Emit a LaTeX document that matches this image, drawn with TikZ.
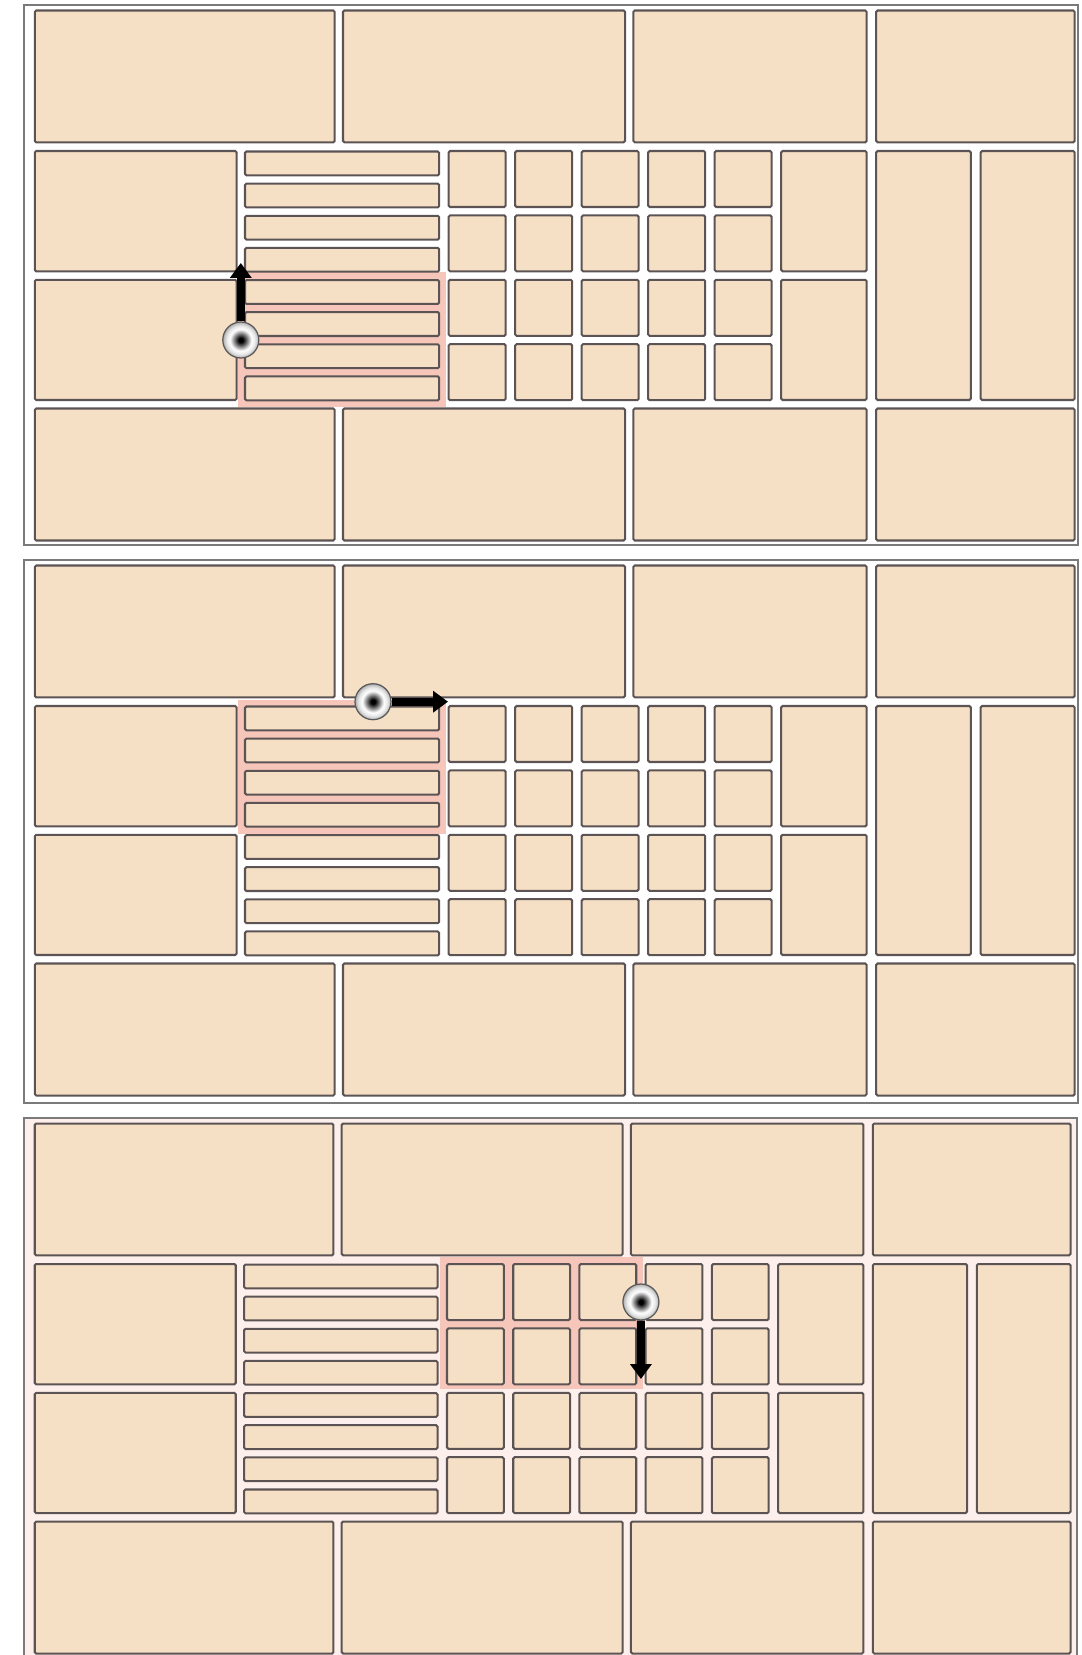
\documentclass[tikz,border=0pt]{standalone}
\usepackage{tikz}
\usetikzlibrary{arrows.meta, positioning}

\definecolor{peche}{RGB}{245,223,197}
\definecolor{trait}{RGB}{92,84,84}
\definecolor{rose}{RGB}{246,198,186}
\definecolor{fondrose}{RGB}{253,239,235}
\pgfdeclareradialshading{ombrecurseur}{\pgfpoint{0bp}{0bp}}{%
  color(0bp)=(black); color(3bp)=(black); color(15bp)=(white);
  color(20bp)=(white!90!black); color(25bp)=(black!32); color(50bp)=(black!32)}

% une mise en page complete (coordonnees en pixels)
\newcommand{\blocs}{%
  % rangees du haut et du bas
  \foreach \ya/\yb in {10.5/142.3, 408.5/540.5}{
    \foreach \xa/\xb in {34.8/334.7, 343/625, 633.4/866.7, 876.2/1074.7}
      \draw[bloc] (\xa,\ya) rectangle (\xb,\yb);
  }
  % blocs de gauche et colonne de droite
  \foreach \ya/\yb in {151/271.3, 279.8/400}{
    \draw[bloc] (34.8,\ya) rectangle (236.6,\yb);
    \draw[bloc] (781.2,\ya) rectangle (866.7,\yb);
  }
  % bandes
  \foreach \i in {0,...,7}
    \draw[bloc] (245,151.5+32.14*\i) rectangle (439.2,175.3+32.14*\i);
  % grille de carres
  \foreach \i in {0,...,3}
    \foreach \j in {0,...,4}
      \draw[bloc] (448.7+66.5*\j,151+64.4*\i) rectangle (505.7+66.5*\j,207+64.4*\i);
  % colonnes hautes
  \draw[bloc] (876.2,151) rectangle (970.8,400);
  \draw[bloc] (980.7,151) rectangle (1074.7,400);
}

\begin{document}
\begin{tikzpicture}[
  x=0.02cm, y=-0.02cm,
  bloc/.style={
    draw=trait, fill=peche, line width=1.15pt, rounded corners=0.8pt
  },
  cadre/.style={
    draw=black!52, line width=1.5pt
  },
  surbrillance/.style={
    fill=rose
  },
  curseur/.style={
    circle, shade, shading=ombrecurseur, draw=black!65, line width=0.7pt,
    inner sep=0pt, minimum size=0.72cm
  },
  deplacement/.style={
    -{Triangle[length=0.3cm, width=0.42cm]},
    draw=black, line width=0.16cm
  }
]
\useasboundingbox (0,0) rectangle (1081,1655);

% ----- 1. Selection des bandes du bas -----
\draw[cadre] (24,5) rectangle (1078,545);
\fill[surbrillance] (238,272.3) rectangle (446,407.3);
\blocs
\node[curseur] (curseurA) at (240.8,340) {};
\coordinate (cibleA) at (240.8,263);
\draw[deplacement] (curseurA) -- (cibleA);

% ----- 2. Selection des bandes du haut -----
\draw[cadre] (24,560) rectangle (1078,1103);
\begin{scope}[shift={(0,555)}]
  \fill[surbrillance] (238,144.5) rectangle (446,278.7);
  \blocs
  \node[curseur] (curseurB) at (373,146.7) {};
  \coordinate (cibleB) at (448,146.7);
  \draw[deplacement] (curseurB) -- (cibleB);
\end{scope}

% ----- 3. Selection de la grille -----
\draw[cadre, fill=fondrose] (24,1118) rectangle (1077,1670);
\begin{scope}[shift={(24,1113)}, xscale=0.996, shift={(-24,0)}]
  \fill[surbrillance] (441.7,144) rectangle (645.7,276);
  \blocs
  \node[curseur] (curseurC) at (643.4,189) {};
  \coordinate (cibleC) at (643.4,266);
  \draw[deplacement] (curseurC) -- (cibleC);
\end{scope}

\end{tikzpicture}
\end{document}
